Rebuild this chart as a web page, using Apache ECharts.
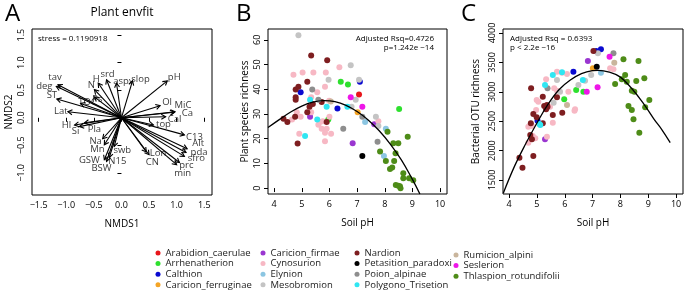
<!DOCTYPE html>
<html><head><meta charset="utf-8">
<script src="https://cdn.jsdelivr.net/npm/echarts@6/dist/echarts.min.js"></script>
<style>html,body{margin:0;padding:0;background:#fff}#c{width:685px;height:292px}</style>
</head><body><div id="c"></div>
<script>
// ---------- Panel A: envfit vectors ----------
const arrowNames = ['tav','deg','ST','Lat','TOC','Ps','N','H','srd','aspv','slop','pH','Ol','MiC','Ca','Cal','top','C13','Alt','pda','sfro','prc','min','Lon','CN','swb','Mn','Na','N15','GSW','BSW','Pla','Si','Hl'];
const arrowNMDS1 = [-1.15,-1.18,-1.17,-0.97,-0.74,-0.49,-0.49,-0.42,-0.27,-0.09,0.20,0.83,0.70,0.97,0.96,0.80,0.58,1.14,1.19,1.17,1.14,1.05,1.00,0.50,0.45,-0.13,-0.31,-0.34,-0.22,-0.31,-0.27,-0.67,-0.76,-0.85];
const arrowNMDS2 = [0.60,0.57,0.34,0.11,0.26,0.38,0.51,0.63,0.69,0.63,0.67,0.67,0.22,0.11,0.10,0.02,-0.13,-0.31,-0.56,-0.63,-0.70,-0.81,-0.85,-0.67,-0.62,-0.52,-0.49,-0.38,-0.72,-0.76,-0.79,-0.09,-0.16,-0.13];
// label placement relative to arrow tip (pixels)
const arrowLabelOffset = [[-3,-7],[-12,0],[-5,-4],[-7,0],[7,-1],[3,2],[-3,-4],[-2,-4],[1,-5],[7,-2],[8,-2],[7,-4],[7,-3],[8,-6],[13,1],[9,3],[10,-1],[10,2],[11,-5],[13,0],[12,2],[7,3],[6,9],[9,-1],[6,10],[8,4],[-7,4],[-7,3],[8,4],[-15,1],[-5,7],[10,7],[-4,5],[-8,0]];
const axisTicksA_x = [-1.5,-1,-0.5,0,0.5,1,1.5];
const axisTicksA_y = [-1,-0.5,0,0.5,1,1.5];

// ---------- Groups ----------
const groups = ['Arabidion_caerulae','Arrhenatherion','Calthion','Caricion_ferruginae','Caricion_firmae','Cynosurion','Elynion','Mesobromion','Nardion','Petasition_paradoxi','Poion_alpinae','Polygono_Trisetion','Rumicion_alpini','Seslerion','Thlaspion_rotundifolii'];
const groupColors = ['#e8161b','#2ee02e','#0a0ad0','#f4a425','#9a36d0','#f7b8c4','#8cc6e2','#c4c4c4','#7e1e20','#000000','#8e8e8e','#30e6f2','#c9b59c','#ee16e8','#4e8c18'];

// ---------- Panel B: plant species richness vs soil pH ----------
const plantArabidion = [[7.07,37.9]];
const plantArrhenatherion = [[6.41,43.0],[6.67,41.9],[8.52,32.0],[5.96,27.8]];
const plantCalthion = [[7.10,43.0],[4.96,38.8],[6.29,32.2]];
const plantCaricionFerruginae = [[7.02,30.7]];
const plantCaricionFirmae = [[5.30,28.9],[6.84,18.1],[7.62,25.8]];
const plantCynosurion = [[4.70,45.9],[5.03,46.8],[5.42,46.8],[5.87,46.8],[6.36,48.9],[5.84,41.0],[5.56,38.8],[5.34,36.8],[5.99,35.4],[4.82,30.7],[4.96,28.9],[4.65,27.8],[5.34,30.7],[5.66,26.7],[5.76,27.1],[5.60,25.6],[6.00,28.9],[5.72,24.0],[5.90,24.0],[5.84,22.4],[6.06,22.0],[5.84,19.0],[4.91,22.0],[7.77,27.1]];
const plantElynion = [[7.29,26.7],[8.04,24.0],[7.97,13.0]];
const plantMesobromion = [[4.88,61.9],[6.77,49.7],[5.97,43.9],[7.07,43.9],[6.95,35.8],[6.80,32.9],[7.68,28.9],[7.77,25.1]];
const plantNardion = [[5.34,53.7],[5.92,51.7],[5.20,43.0],[4.78,39.9],[4.88,41.0],[4.78,36.8],[4.78,35.8],[5.28,32.9],[5.72,34.8],[5.40,34.0],[4.34,28.1],[4.48,26.7],[4.76,28.9],[5.20,30.7],[5.90,26.7],[4.85,18.0]];
const plantPetasition = [[7.19,13.0]];
const plantPoion = [[5.38,39.9],[5.60,35.8],[6.50,24.0],[7.19,28.9],[7.74,18.8]];
const plantPolygono = [[5.30,35.8],[5.90,32.9],[6.65,32.9],[5.56,27.8],[5.12,21.1]];
const plantRumicion = [[6.05,35.0]];
const plantSeslerion = [[6.77,36.8],[7.19,32.9]];
const plantThlaspion = [[8.10,22.8],[8.83,20.8],[8.31,18.1],[8.49,18.1],[7.83,14.8],[8.39,14.1],[8.04,11.0],[8.34,11.0],[8.27,8.3],[8.19,7.7],[8.67,6.0],[8.67,4.0],[8.88,4.0],[9.03,3.2],[8.40,1.2],[8.49,0.9],[8.55,0.7],[8.57,-0.1]];
const plantFitCurve = [[3.78,24.5],[4.2,27.8],[4.6,30.8],[5.0,33.2],[5.4,34.8],[5.8,35.4],[6.2,35.0],[6.6,33.5],[7.0,31.0],[7.4,27.6],[7.8,23.2],[8.2,17.8],[8.6,11.4],[9.0,3.5],[9.27,-2.4]];

// ---------- Panel C: bacterial OTU richness vs soil pH ----------
const otuArabidion = [];
const otuArrhenatherion = [[6.41,3031],[6.67,3002],[5.98,2873]];
const otuCalthion = [[7.13,3694],[7.30,3723],[6.31,3342],[5.02,2509]];
const otuCaricionFerruginae = [[7.01,3400]];
const otuCaricionFirmae = [[6.83,3524],[5.29,2193]];
const otuCynosurion = [[7.63,3400],[7.75,3383],[5.72,3342],[5.90,3325],[6.08,3303],[5.33,3213],[5.62,3060],[5.72,3019],[6.13,3002],[4.99,2861],[5.05,2832],[6.37,2703],[5.47,2747],[4.97,2691],[6.35,2679],[4.69,2407],[4.82,2419],[5.57,2475],[4.85,2250],[4.94,2210],[4.69,2135],[5.36,2237]];
const otuElynion = [[7.30,3325]];
const otuMesobromion = [[7.19,3655],[6.95,3286],[5.72,3201],[6.73,3189],[6.49,3116],[5.83,3002],[5.60,2815]];
const otuNardion = [[7.03,3694],[4.79,3060],[5.21,2917],[5.72,2907],[5.38,2747],[5.36,2776],[5.26,2759],[5.33,2703],[4.87,2623],[4.99,2567],[5.57,2606],[5.91,2645],[4.78,2465],[5.21,2465],[4.76,2266],[4.82,2193],[4.37,1880],[4.87,1909],[4.48,1710]];
const otuPetasition = [[7.15,3427]];
const otuPoion = [[7.75,3655],[5.38,3060]];
const otuPolygono = [[5.90,3332],[5.57,3286],[6.65,3201],[5.29,3116],[5.09,2453],[5.12,2436]];
const otuRumicion = [[7.78,3495],[6.08,2776]];
const otuSeslerion = [[7.61,3597],[7.18,3077],[6.79,3002]];
const otuThlaspion = [[8.11,3553],[8.65,3524],[8.17,3286],[8.05,3213],[8.23,3172],[8.57,3184],[8.86,3230],[7.81,3133],[8.41,3019],[8.50,3002],[9.04,2861],[8.29,2759],[8.89,2737],[8.41,2691],[8.47,2533],[8.68,2305]];
const otuFitCurve = [[3.79,1275],[4.2,1740],[4.6,2120],[5.0,2470],[5.4,2790],[5.8,3040],[6.2,3200],[6.6,3310],[7.0,3360],[7.2,3365],[7.6,3335],[8.0,3250],[8.4,3060],[8.8,2820],[9.2,2540],[9.5,2350],[9.79,2135]];

const phTicks = [4,5,6,7,8,9,10];
const plantTicks = [0,10,20,30,40,50,60];
const otuTicks = [1500,2000,2500,3000,3500,4000];

const plantByGroup = [plantArabidion,plantArrhenatherion,plantCalthion,plantCaricionFerruginae,plantCaricionFirmae,plantCynosurion,plantElynion,plantMesobromion,plantNardion,plantPetasition,plantPoion,plantPolygono,plantRumicion,plantSeslerion,plantThlaspion];
const otuByGroup = [otuArabidion,otuArrhenatherion,otuCalthion,otuCaricionFerruginae,otuCaricionFirmae,otuCynosurion,otuElynion,otuMesobromion,otuNardion,otuPetasition,otuPoion,otuPolygono,otuRumicion,otuSeslerion,otuThlaspion];

// ---------- Build chart ----------
const FONT = '"Open Sans", sans-serif';
const minus = v => String(v).replace('-', '\u2212');
function xAxisBase(idx, min, max, ticks, fmt, name, nameGap) {
  return {type:'value', gridIndex:idx, min, max, name, nameLocation:'middle', nameGap,
    nameTextStyle:{fontFamily:FONT, fontSize:10, color:'#000'},
    axisLine:{show:false}, splitLine:{show:false},
    axisTick:{show:true, inside:false, length:4, customValues:ticks, lineStyle:{color:'#000'}},
    axisLabel:{customValues:ticks, formatter:fmt, fontFamily:FONT, fontSize:9, color:'#000', margin:6}};
}
function yAxisBase(idx, min, max, ticks, fmt, name, nameGap) {
  return {type:'value', gridIndex:idx, min, max, name, nameLocation:'middle', nameGap, nameRotate:90,
    nameTextStyle:{fontFamily:FONT, fontSize:10, color:'#000'},
    axisLine:{show:false}, splitLine:{show:false},
    axisTick:{show:true, inside:false, length:4, customValues:ticks, lineStyle:{color:'#000'}},
    axisLabel:{customValues:ticks, formatter:fmt, rotate:90, fontFamily:FONT, fontSize:9, color:'#000', margin:6}};
}

const series = [];
// arrows with open heads (R style)
series.push({type:'custom', xAxisIndex:0, yAxisIndex:0, silent:true, clip:false,
  data: arrowNames.map((n,i)=>[arrowNMDS1[i],arrowNMDS2[i]]),
  renderItem:(params, api)=>{
    const o = api.coord([0,0]);
    const t = api.coord([api.value(0), api.value(1)]);
    const ang = Math.atan2(t[1]-o[1], t[0]-o[0]);
    const L = 5, a = Math.PI/6;
    const h1 = [t[0]-L*Math.cos(ang-a), t[1]-L*Math.sin(ang-a)];
    const h2 = [t[0]-L*Math.cos(ang+a), t[1]-L*Math.sin(ang+a)];
    const st = {stroke:'#000', lineWidth:1.1, fill:null};
    return {type:'group', children:[
      {type:'line', shape:{x1:o[0],y1:o[1],x2:t[0],y2:t[1]}, style:st},
      {type:'polyline', shape:{points:[h1,t,h2]}, style:st}
    ]};
  }});
series.push({type:'scatter', xAxisIndex:0, yAxisIndex:0, symbolSize:1, silent:true,
  itemStyle:{color:'rgba(0,0,0,0)'},
  label:{show:true, position:'inside', formatter:p=>p.name, fontFamily:FONT, fontSize:9.5, color:'#000'},
  data: arrowNames.map((n,i)=>({name:n, value:[arrowNMDS1[i],arrowNMDS2[i]], label:{offset:arrowLabelOffset[i]}}))});
// scatter groups
groups.forEach((g,i)=>{
  series.push({name:g, type:'scatter', xAxisIndex:1, yAxisIndex:1, symbolSize:6, itemStyle:{color:groupColors[i], opacity:1}, data:plantByGroup[i], z:3});
  series.push({name:g, type:'scatter', xAxisIndex:2, yAxisIndex:2, symbolSize:6, itemStyle:{color:groupColors[i], opacity:1}, data:otuByGroup[i], z:3});
});
series.push({type:'line', xAxisIndex:1, yAxisIndex:1, data:plantFitCurve, smooth:0.4, showSymbol:false, lineStyle:{color:'#000', width:1.3}, z:4, silent:true});
series.push({type:'line', xAxisIndex:2, yAxisIndex:2, data:otuFitCurve, smooth:0.4, showSymbol:false, lineStyle:{color:'#000', width:1.3}, z:4, silent:true});

const legendBase = {orient:'vertical', icon:'circle', itemWidth:5, itemHeight:5, itemGap:0.6, padding:0, selectedMode:false,
  textStyle:{fontFamily:FONT, fontSize:9.5, color:'#222', lineHeight:10}};

const txt = (x,y,t,size,align,extra) => ({type:'text', x, y, silent:true,
  style:Object.assign({text:t, fontFamily:FONT, fontSize:size, fill:'#000', textAlign:align||'left', textVerticalAlign:'middle'}, extra||{})});

const chart = echarts.init(document.getElementById('c'), null, {renderer:'canvas'});
chart.setOption({
  animation:false,
  backgroundColor:'#fff',
  grid:[
    {left:32, top:29, width:180, height:166, show:true, borderColor:'#000', borderWidth:1, backgroundColor:'rgba(0,0,0,0)'},
    {left:268, top:29, width:179, height:165, show:true, borderColor:'#000', borderWidth:1, backgroundColor:'rgba(0,0,0,0)'},
    {left:503, top:29, width:180, height:165, show:true, borderColor:'#000', borderWidth:1, backgroundColor:'rgba(0,0,0,0)'}
  ],
  xAxis:[
    xAxisBase(0,-1.62,1.64,axisTicksA_x,v=>minus(v.toFixed(1)),'NMDS1',24),
    xAxisBase(1,3.78,10.25,phTicks,v=>String(v),'Soil pH',24),
    xAxisBase(2,3.78,10.25,phTicks,v=>String(v),'Soil pH',24)
  ],
  yAxis:[
    yAxisBase(0,-1.40,1.61,axisTicksA_y,v=>minus(v.toFixed(1)),'NMDS2',18),
    yAxisBase(1,-2.4,64.4,plantTicks,v=>String(v),'Plant species richness',18),
    yAxisBase(2,1262,4068,otuTicks,v=>String(v),'Bacterial OTU richness',22)
  ],
  legend:[
    Object.assign({data:groups.slice(0,4), left:155.5, top:248}, legendBase),
    Object.assign({data:groups.slice(4,8), left:260.5, top:248}, legendBase),
    Object.assign({data:groups.slice(8,12), left:354.5, top:248}, legendBase),
    Object.assign({data:groups.slice(12,15), left:453.5, top:250}, legendBase)
  ],
  graphic:[
    txt(5,14,'A',24,'left'),
    txt(122,13,'Plant envfit',12,'center'),
    txt(38,39,'stress = 0.1190918',8,'left'),
    txt(236,14,'B',24,'left'),
    txt(434,39,'Adjusted Rsq=0.4726',8,'right'),
    txt(434,48,'p=1.242e \u221214',8,'right'),
    txt(461,14,'C',24,'left'),
    txt(510,39,'Adjusted Rsq = 0.6393',8,'left'),
    txt(510,48,'p < 2.2e \u221216',8,'left')
  ],
  series
});
</script></body></html>
